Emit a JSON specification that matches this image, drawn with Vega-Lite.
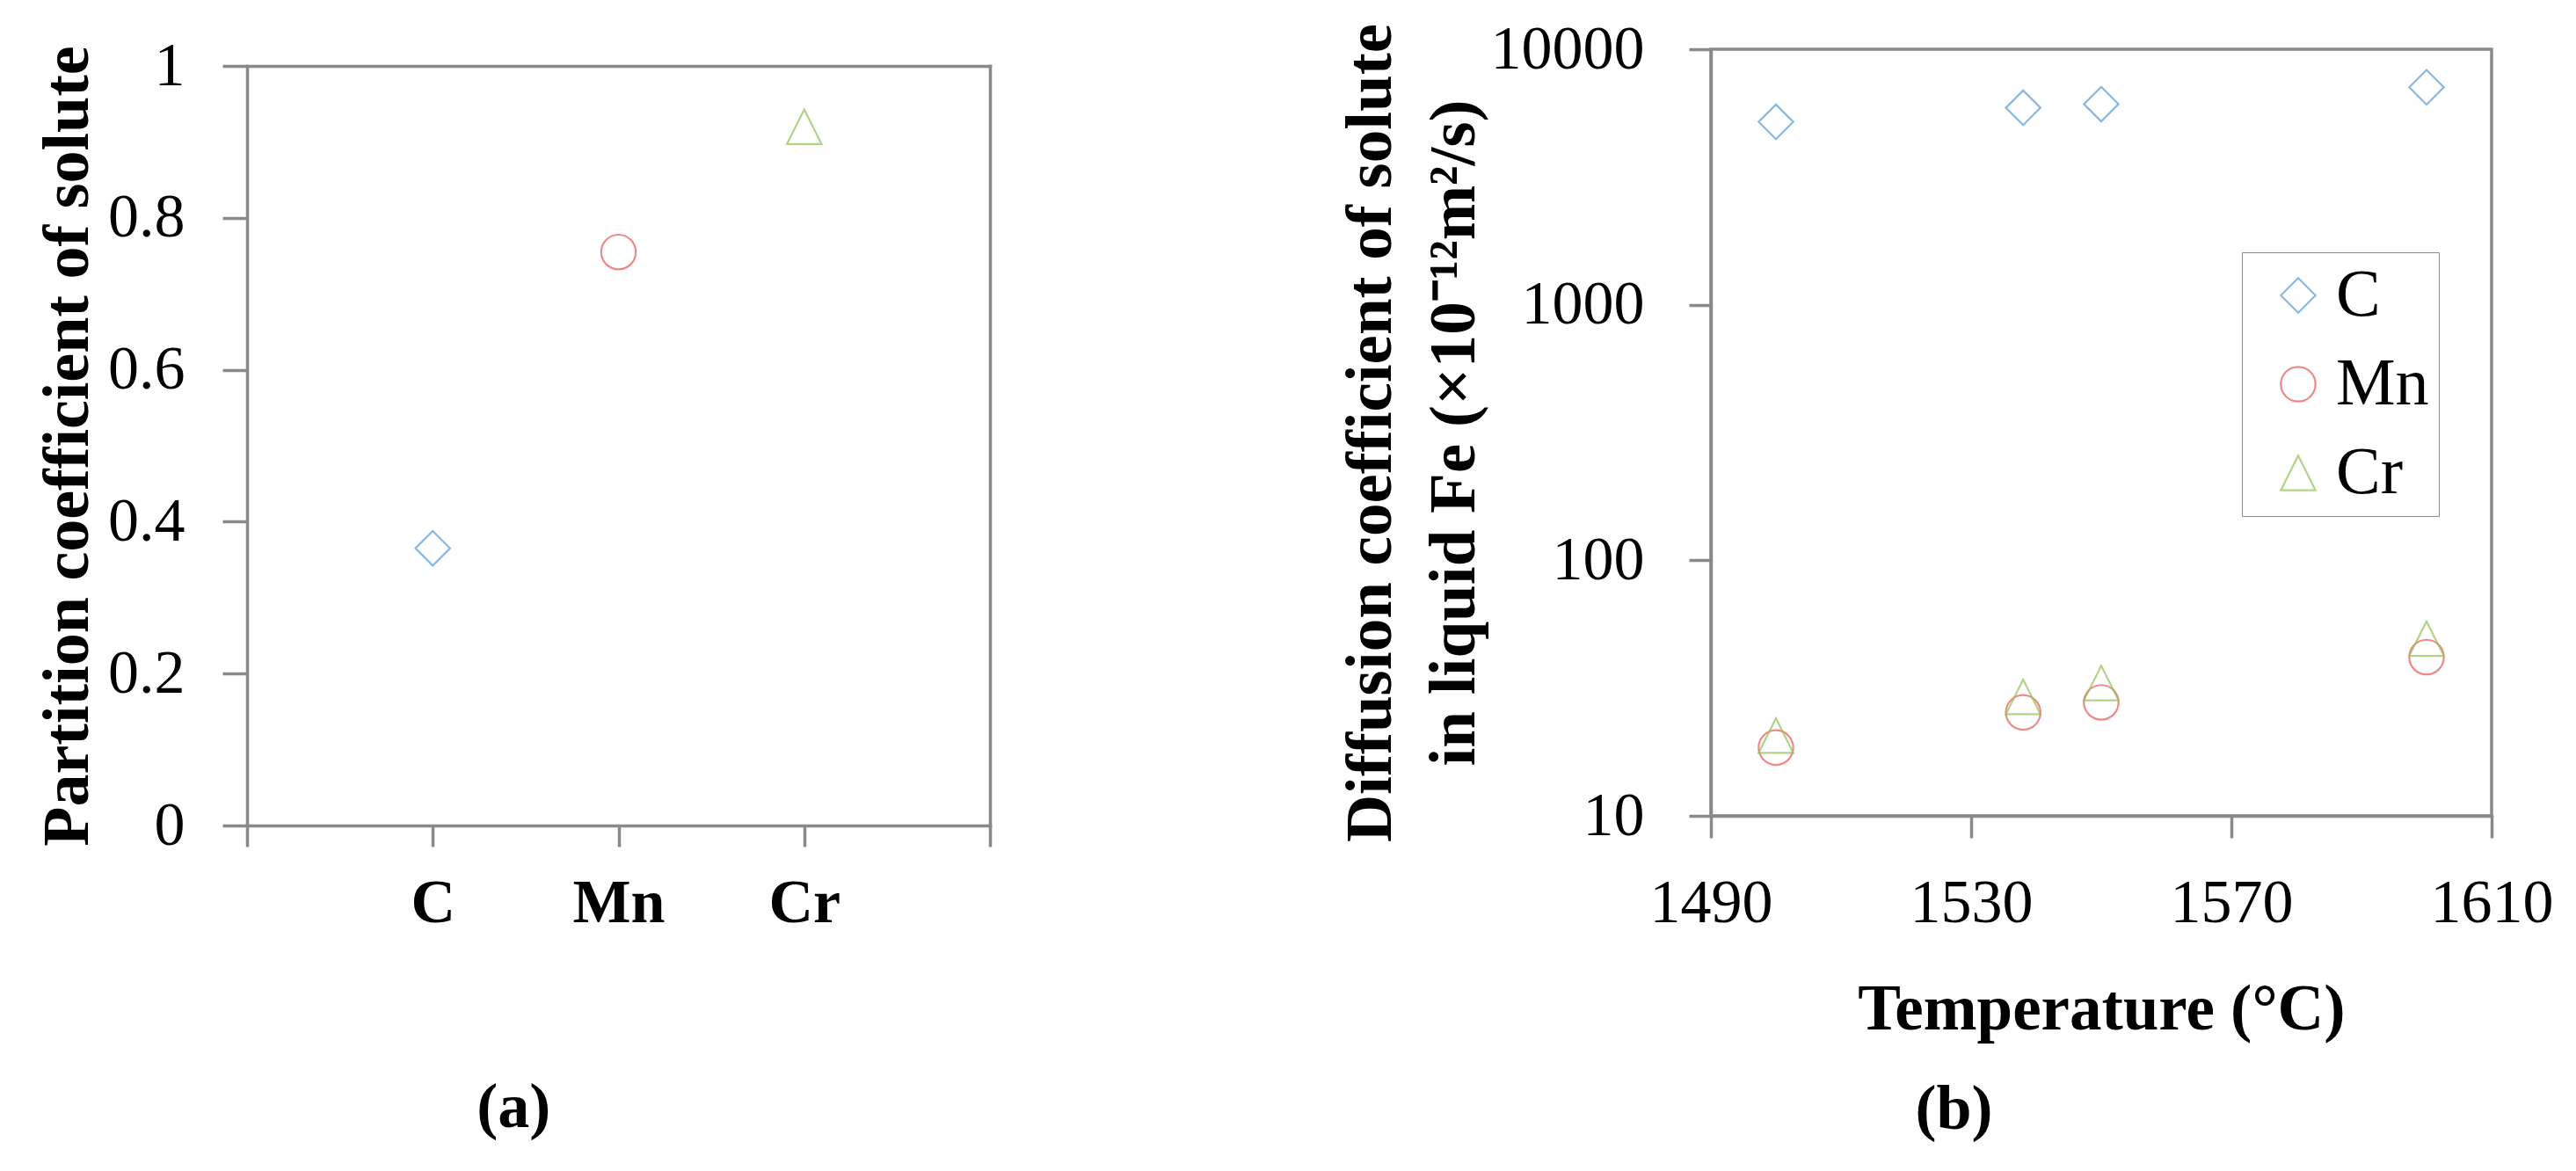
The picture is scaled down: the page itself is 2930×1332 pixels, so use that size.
{
  "$schema": "https://vega.github.io/schema/vega-lite/v6.json",
  "background": "white",
  "padding": {"left": 40, "top": 0, "right": 0, "bottom": 30},
  "datasets": {
    "partition": [
      {"element": "C", "k": 0.365},
      {"element": "Mn", "k": 0.755},
      {"element": "Cr", "k": 0.92}
    ],
    "diffusion": [
      {"element": "C", "T": 1500, "D": 5200},
      {"element": "C", "T": 1538, "D": 5900},
      {"element": "C", "T": 1550, "D": 6100},
      {"element": "C", "T": 1600, "D": 7100},
      {"element": "Mn", "T": 1500, "D": 18.5},
      {"element": "Mn", "T": 1538, "D": 25.4},
      {"element": "Mn", "T": 1550, "D": 27.8},
      {"element": "Mn", "T": 1600, "D": 41.8},
      {"element": "Cr", "T": 1500, "D": 20.6},
      {"element": "Cr", "T": 1538, "D": 29.2},
      {"element": "Cr", "T": 1550, "D": 33.1},
      {"element": "Cr", "T": 1600, "D": 49.4}
    ]
  },
  "config": {
    "font": "Liberation Serif",
    "view": {"stroke": "#898989", "strokeWidth": 3.5},
    "axis": {
      "domainColor": "#898989", "domainWidth": 3.5, "domainCap": "square",
      "tickColor": "#898989", "tickWidth": 3.5,
      "grid": false, "labelFlush": false,
      "labelFont": "Liberation Serif", "labelColor": "black", "labelFontSize": 70,
      "titleFont": "Liberation Serif", "titleFontWeight": "bold", "titleColor": "black", "titleFontSize": 75
    },
    "concat": {"spacing": 391}
  },
  "resolve": {
    "scale": {"color": "independent", "shape": "independent"},
    "legend": {"color": "independent", "shape": "independent"}
  },
  "hconcat": [
    {
      "width": 845,
      "height": 883,
      "view": {"stroke": null},
      "data": {"name": "partition"},
      "title": {"text": "(a)", "orient": "bottom", "anchor": "middle", "frame": "bounds", "font": "Liberation Serif", "fontSize": 72, "fontWeight": "bold", "color": "black", "offset": 163},
      "layer": [
        {
          "mark": {"type": "point", "filled": false, "strokeWidth": 2.2, "size": 1550},
          "encoding": {
            "x": {
              "field": "element", "type": "nominal",
              "scale": {"type": "point", "domain": [" ", "C", "Mn", "Cr", "  "], "padding": 0},
              "axis": {"orient": "bottom", "title": null, "labelAngle": 0, "tickSize": 24, "labelPadding": 30, "labelFontWeight": "bold"}
            },
            "y": {
              "field": "k", "type": "quantitative",
              "scale": {"domain": [0, 1], "nice": false, "range": [883, 19]},
              "axis": {"orient": "left", "title": "Partition coefficient of solute", "values": [0, 0.2, 0.4, 0.6, 0.8, 1], "format": "~g", "tickSize": 28, "labelPadding": 43, "titlePadding": 7, "titleFontSize": 74}
            },
            "color": {"field": "element", "type": "nominal", "scale": {"domain": ["C", "Mn", "Cr"], "range": ["#5B9BD5", "#E8585A", "#92C353"]}, "legend": null},
            "shape": {"field": "element", "type": "nominal", "scale": {"domain": ["C", "Mn", "Cr"], "range": ["diamond", "circle", "M0,-1L1,1L-1,1Z"]}, "legend": null}
          }
        },
        {
          "mark": {"type": "point", "opacity": 0},
          "encoding": {
            "x": {"field": "element", "type": "nominal", "axis": {"orient": "top", "offset": -19, "labels": false, "ticks": false, "domain": true, "title": null}},
            "y": {"field": "k", "type": "quantitative", "axis": {"orient": "right", "labels": false, "ticks": false, "domain": true, "title": null}}
          }
        }
      ]
    },
    {
      "width": 888,
      "height": 872,
      "data": {"name": "diffusion"},
      "title": {"text": "(b)", "orient": "bottom", "anchor": "middle", "frame": "bounds", "font": "Liberation Serif", "fontSize": 72, "fontWeight": "bold", "color": "black", "offset": 42, "dx": 10},
      "layer": [
        {
          "mark": {"type": "point", "filled": false, "strokeWidth": 2.2, "size": 1550},
          "encoding": {
            "x": {
              "field": "T", "type": "quantitative",
              "scale": {"domain": [1490, 1610], "nice": false},
              "axis": {"orient": "bottom", "title": "Temperature (°C)", "values": [1490, 1530, 1570, 1610], "format": "d", "tickSize": 25, "labelPadding": 40, "titlePadding": 50, "titleFontSize": 73}
            },
            "y": {
              "field": "D", "type": "quantitative",
              "scale": {"type": "log", "domain": [10, 10000], "nice": false},
              "axis": {"orient": "left", "title": ["Diffusion coefficient of solute", "in liquid Fe (×10⁻¹²m²/s)"], "values": [10, 100, 1000, 10000], "format": "d", "tickSize": 25, "labelPadding": 51, "titlePadding": 54, "titleLineHeight": 95}
            },
            "color": {
              "field": "element", "type": "nominal",
              "scale": {"domain": ["C", "Mn", "Cr"], "range": ["#5B9BD5", "#E8585A", "#92C353"]},
              "legend": {"title": null, "orient": "none", "legendX": 604, "legendY": 231, "labelFont": "Liberation Serif", "labelFontSize": 76, "labelColor": "black", "symbolSize": 1550, "symbolStrokeWidth": 2.2, "padding": 11, "rowPadding": 25, "symbolOffset": 15, "labelOffset": 5, "strokeColor": "#898989", "fillColor": "white"}
            },
            "shape": {
              "field": "element", "type": "nominal",
              "scale": {"domain": ["C", "Mn", "Cr"], "range": ["diamond", "circle", "M0,-1L1,1L-1,1Z"]},
              "legend": {"title": null, "orient": "none", "legendX": 604, "legendY": 231, "labelFont": "Liberation Serif", "labelFontSize": 76, "labelColor": "black", "symbolSize": 1550, "symbolStrokeWidth": 2.2, "padding": 11, "rowPadding": 25, "symbolOffset": 15, "labelOffset": 5, "strokeColor": "#898989", "fillColor": "white"}
            }
          }
        },
        {
          "mark": {"type": "point", "opacity": 0},
          "encoding": {
            "x": {"field": "T", "type": "quantitative", "axis": {"orient": "top", "labels": false, "domain": false, "title": null, "values": [1490], "tickSize": 54, "tickOpacity": 0, "tickWidth": 0.5}}
          }
        }
      ]
    }
  ]
}
